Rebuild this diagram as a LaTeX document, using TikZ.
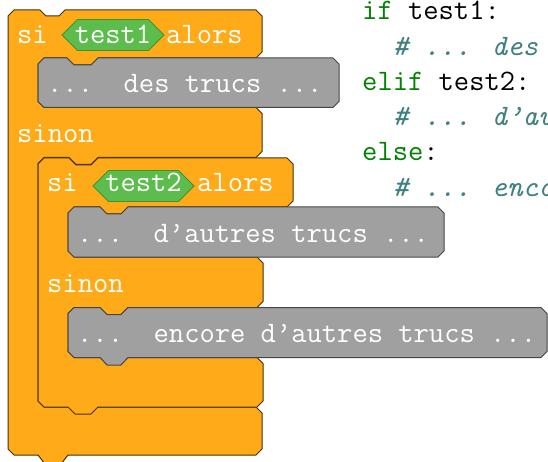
\documentclass[tikz,border=0pt]{standalone}
\usepackage{xcolor}
\definecolor{ctrl}{RGB}{255,171,25}
\definecolor{ctrlb}{RGB}{70,48,10}
\definecolor{stk}{RGB}{160,160,160}
\definecolor{stkb}{RGB}{70,70,70}
\definecolor{opg}{RGB}{92,188,76}
\definecolor{opgb}{RGB}{62,145,52}
\definecolor{kw}{RGB}{0,128,0}
\definecolor{cm}{RGB}{64,128,128}
\newcommand\bigtt{\ttfamily\fontsize{29.7}{35.3}\selectfont}
\begin{document}
\begin{tikzpicture}[x=1pt,y=-1pt,
  ctrlblk/.style={fill=ctrl,draw=ctrlb,line width=1},
  stkblk/.style={fill=stk,draw=stkb,line width=1},
  opblk/.style={fill=opg,draw=opgb,line width=0.8},
  lbl/.style={anchor=base west,inner sep=0,text=white,font=\bigtt},
  oplbl/.style={anchor=base,inner sep=0,text=white,font=\bigtt},
  code/.style={anchor=base west,inner sep=0,font=\bigtt},
]
\path[use as bounding box] (0,0) rectangle (548,462);
% outer if-else block
\path[ctrlblk] (8,16) -- (14,10) -- (40,10) -- (46,16) -- (59,16) -- (65,10) -- (256,10) -- (262,16)
  -- (262,52) -- (256,58) -- (98,58) -- (91,65) -- (74,65) -- (67,58) -- (44,58) -- (38,64)
  -- (38,101.5) -- (44,107.5) -- (256,107.5) -- (262,113.5) -- (262,151.5) -- (256,157.5)
  -- (98,157.5) -- (91,164.5) -- (76,164.5) -- (69,157.5) -- (44,157.5) -- (38,163.5)
  -- (38,401) -- (44,407) -- (256,407) -- (262,413) -- (262,449) -- (256,455)
  -- (68,455) -- (61,464) -- (45,464) -- (38,455) -- (14,455) -- (8,449) -- cycle;
% first stack block
\path[stkblk] (38,64) -- (44,58) -- (67,58) -- (74,65) -- (91,65) -- (98,58) -- (333,58) -- (339,64)
  -- (339,101.5) -- (333,107.5) -- (44,107.5) -- (38,101.5) -- cycle;
% inner if-else block
\path[ctrlblk] (38,164) -- (44,158) -- (69,158) -- (76,165) -- (91,165) -- (98,158) -- (287,158) -- (293,164)
  -- (293,201) -- (287,207) -- (128,207) -- (121,214) -- (107,214) -- (100,207) -- (74,207) -- (68,213)
  -- (68,251) -- (74,257) -- (257,257) -- (263,263) -- (263,301.5) -- (257,307.5)
  -- (128,307.5) -- (121,314.5) -- (107,314.5) -- (100,307.5) -- (74,307.5) -- (68,313.5)
  -- (68,351.5) -- (74,357.5) -- (257,357.5) -- (263,363.5) -- (263,401) -- (257,407)
  -- (98,407) -- (91,414) -- (75,414) -- (68,407) -- (44,407) -- (38,401) -- cycle;
% second stack block
\path[stkblk] (68,213) -- (74,207) -- (100,207) -- (107,214) -- (121,214) -- (128,207) -- (438,207) -- (444,213)
  -- (444,251) -- (438,257) -- (74,257) -- (68,251) -- cycle;
% third stack block
\path[stkblk] (68,313.5) -- (74,307.5) -- (100,307.5) -- (107,314.5) -- (121,314.5) -- (128,307.5) -- (541,307.5) -- (547,313.5)
  -- (547,351.5) -- (541,357.5) -- (128,357.5) -- (121,365) -- (107,365) -- (100,357.5) -- (74,357.5) -- (68,351.5) -- cycle;
% condition hexagons
\path[opblk] (62,35) -- (77.5,19.5) -- (148.5,19.5) -- (164,35) -- (148.5,50.5) -- (77.5,50.5) -- cycle;
\path[opblk] (93,186) -- (108.5,170.5) -- (178.5,170.5) -- (194,186) -- (178.5,201.5) -- (108.5,201.5) -- cycle;
% block labels
\node[lbl] (si1) at (17,44) {si};
\node[oplbl] (t1) at (113,44) {test1};
\node[lbl] (al1) at (166,44) {alors};
\node[lbl] (g1) at (47,93) {...\ \ des trucs ...};
\node[lbl] (sn1) at (17,142.5) {sinon};
\node[lbl] (si2) at (47,192) {si};
\node[oplbl] (t2) at (143.5,192) {test2};
\node[lbl] (al2) at (197,192) {alors};
\node[lbl] (g2) at (77,242) {...\ \ d’autres trucs ...};
\node[lbl] (sn2) at (47,292.5) {sinon};
\node[lbl] (g3) at (77,342.5) {...\ \ encore d’autres trucs ...};
% python code
\node[code] (c1) at (362,19.8) {\textcolor{kw}{if} test1:};
\node[code,text=cm] (c2) at (362,55.1) {\ \ \itshape\# ... des};
\node[code] (c3) at (362,90.4) {\textcolor{kw}{elif} test2:};
\node[code,text=cm] (c4) at (362,125.7) {\ \ \itshape\# ... d’au};
\node[code] (c5) at (362,161) {\textcolor{kw}{else}:};
\node[code,text=cm] (c6) at (362,196.3) {\ \ \itshape\# ... enco};
\end{tikzpicture}
\end{document}
